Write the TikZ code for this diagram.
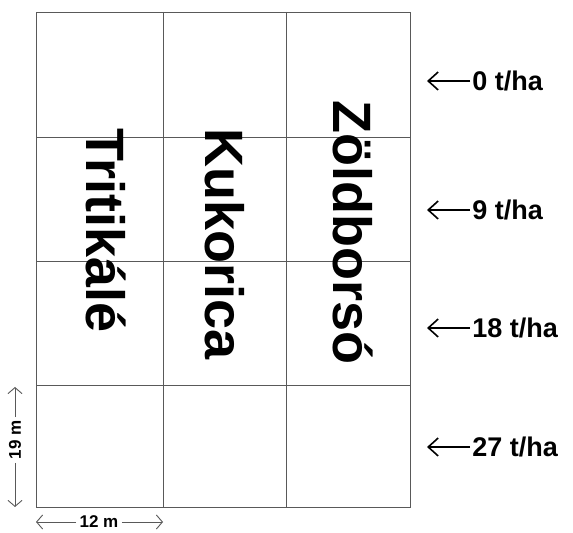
\documentclass[tikz,border=0pt]{standalone}
\usepackage{fontspec}
\setmainfont{Liberation Sans}
\usetikzlibrary{arrows.meta, positioning}

\begin{document}
\begin{tikzpicture}[x=0.5pt, y=-0.5pt]
			\tikzset{%
				crop/.style={font=\fontsize{27}{27}\selectfont\bfseries, rotate=-90, anchor=west, inner sep=0pt},
				dose/.style={font=\fontsize{13.5}{13.5}\selectfont\bfseries, anchor=west, inner sep=1pt},
				dimlabel/.style={font=\fontsize{8.5}{8.5}\selectfont\bfseries, inner sep=1.5pt},
				plotline/.style={draw=black!65, line width=0.45pt},
				pointer/.style={-{Straight Barb[length=5pt, width=9pt]}, line width=0.8pt},
				dimarrow/.style={-{Straight Barb[length=3pt, width=7pt]}, draw=black!65, line width=0.45pt}
			}
			\useasboundingbox (0,0) rectangle (573,533);
			% plots
			\draw[plotline] (36,12) rectangle (410,507);
			\foreach \x in {163,286} \draw[plotline] (\x,12) -- (\x,507);
			\foreach \y in {137,261,385} \draw[plotline] (36,\y) -- (410,\y);
			% crops
			\node[crop] (trit) at (106,128) {Tritikálé};
			\node[crop] (kuk) at (225,128) {Kukorica};
			\node[crop] (zold) at (353,100) {Zöldborsó};
			% doses
			\node[dose] (dose0) at (470,81) {0 t/ha};
			\node[dose] (dose9) at (470,210) {9 t/ha};
			\node[dose] (dose18) at (470,328) {18 t/ha};
			\node[dose] (dose27) at (470,447) {27 t/ha};
			\foreach \d/\y in {0/81,9/210,18/328,27/447} {
				\coordinate (tip\d) at (427,\y);
				\draw[pointer] (dose\d.west) -- (tip\d);
			}
			% dimensions
			\node[dimlabel, rotate=90] (height) at (15,440) {19 m};
			\coordinate (htop) at (15,387);
			\coordinate (hbot) at (15,507);
			\draw[dimarrow] (height.east) -- (htop);
			\draw[dimarrow] (height.west) -- (hbot);
			\node[dimlabel] (width) at (99,522) {12 m};
			\coordinate (wleft) at (36,522);
			\coordinate (wright) at (163,522);
			\draw[dimarrow] (width.west) -- (wleft);
			\draw[dimarrow] (width.east) -- (wright);
		\end{tikzpicture}
\end{document}
